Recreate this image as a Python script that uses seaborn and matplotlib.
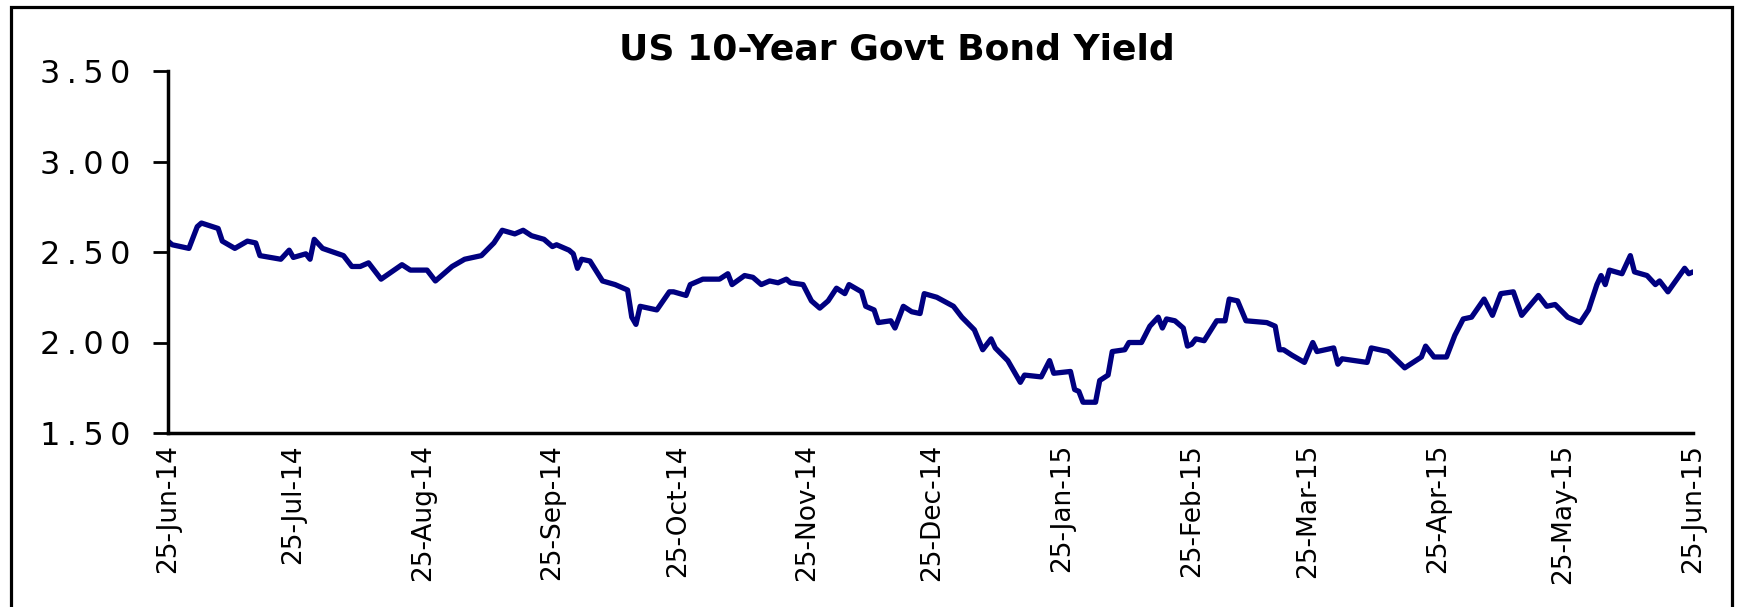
import matplotlib
matplotlib.use('Agg')
import matplotlib.pyplot as plt
import matplotlib.dates as mdates
from matplotlib.ticker import FuncFormatter
import seaborn as sns
import pandas as pd

# US 10y govt bond yield (days after 25-Jun-14, % yield)
day_offset = [0, 1, 5, 7, 8, 12, 13, 16, 19, 21, 22, 27, 29, 30, 33, 34, 35, 37,
              42, 44, 46, 48, 51, 56, 58, 62, 64, 68, 71, 75, 78, 80, 83, 85, 87,
              90, 92, 93, 96, 97, 98, 99, 101, 104, 107, 110, 111, 112, 113, 117,
              120, 121, 124, 125, 128, 132, 134, 135, 138, 140, 142, 144, 146, 148,
              149, 152, 154, 156, 158, 160, 162, 163, 166, 167, 169, 170, 173, 174,
              176, 178, 180, 181, 184, 188, 190, 193, 195, 197, 198, 201, 204, 205,
              209, 211, 212, 216, 217, 218, 219, 222, 223, 225, 226, 229, 230, 233,
              235, 237, 238, 239, 241, 243, 244, 245, 246, 248, 251, 253, 254, 256,
              258, 263, 265, 266, 267, 269, 272, 274, 275, 279, 280, 281, 287, 288,
              292, 296, 300, 301, 303, 306, 308, 310, 312, 315, 317, 319, 322, 324,
              328, 330, 332, 335, 338, 340, 342, 343, 344, 345, 348, 350, 351, 354,
              356, 357, 359, 363, 364, 365]
yield_pct = [2.56, 2.54, 2.52, 2.64, 2.66, 2.63, 2.56, 2.52, 2.56, 2.55, 2.48, 2.46,
             2.51, 2.47, 2.49, 2.46, 2.57, 2.52, 2.48, 2.42, 2.42, 2.44, 2.35, 2.43,
             2.40, 2.40, 2.34, 2.42, 2.46, 2.48, 2.55, 2.62, 2.60, 2.62, 2.59, 2.57,
             2.53, 2.54, 2.51, 2.49, 2.41, 2.46, 2.45, 2.34, 2.32, 2.29, 2.14, 2.10,
             2.20, 2.18, 2.28, 2.28, 2.26, 2.32, 2.35, 2.35, 2.38, 2.32, 2.37, 2.36,
             2.32, 2.34, 2.33, 2.35, 2.33, 2.32, 2.23, 2.19, 2.23, 2.30, 2.27, 2.32,
             2.28, 2.20, 2.18, 2.11, 2.12, 2.08, 2.20, 2.17, 2.16, 2.27, 2.25, 2.20,
             2.14, 2.07, 1.96, 2.02, 1.97, 1.90, 1.78, 1.82, 1.81, 1.90, 1.83, 1.84,
             1.74, 1.73, 1.67, 1.67, 1.79, 1.82, 1.95, 1.96, 2.00, 2.00, 2.09, 2.14,
             2.08, 2.13, 2.12, 2.08, 1.98, 1.99, 2.02, 2.01, 2.12, 2.12, 2.24, 2.23,
             2.12, 2.11, 2.09, 1.96, 1.96, 1.93, 1.89, 2.00, 1.95, 1.97, 1.88, 1.91,
             1.89, 1.97, 1.95, 1.86, 1.92, 1.98, 1.92, 1.92, 2.04, 2.13, 2.14, 2.24,
             2.15, 2.27, 2.28, 2.15, 2.26, 2.20, 2.21, 2.14, 2.11, 2.18, 2.32, 2.37,
             2.32, 2.40, 2.38, 2.48, 2.39, 2.37, 2.32, 2.34, 2.28, 2.41, 2.38, 2.39]

start_date = '2014-06-25'
end_date = '2015-06-25'
title_text = 'US 10-Year Govt Bond Yield'
y_ticks = [1.50, 2.00, 2.50, 3.00, 3.50]

df = pd.DataFrame({'date': pd.Timestamp(start_date) + pd.to_timedelta(day_offset, unit='D'),
                   'yield': yield_pct})

sns.set_style('white')
plt.rcParams['font.family'] = ['DejaVu Sans']

W, H = 1737, 607
fig = plt.figure(figsize=(W / 100, H / 100), dpi=100)
ax = fig.add_axes([168 / W, 1 - 433 / H, (1693 - 168) / W, (433 - 71) / H])

sns.lineplot(data=df, x='date', y='yield', ax=ax, color='#000080', linewidth=3.8)

ax.set_xlim(pd.Timestamp(start_date), pd.Timestamp(end_date))
ax.set_ylim(1.5, 3.5)
ax.set_yticks(y_ticks)
# the original labels are letter-spaced
ax.yaxis.set_major_formatter(FuncFormatter(lambda v, p: '\u2009'.join('%.2f' % v)))

month_ticks = pd.date_range(start_date, end_date, freq=pd.DateOffset(months=1))
ax.set_xticks(month_ticks)
ax.xaxis.set_major_formatter(mdates.DateFormatter('%d-%b-%y'))

ax.set_xlabel('')
ax.set_ylabel('')

for s in ['top', 'right']:
    ax.spines[s].set_visible(False)
for s in ['left', 'bottom']:
    ax.spines[s].set_linewidth(2.5)
    ax.spines[s].set_color('black')

ax.tick_params(axis='y', direction='out', length=11, width=2, pad=16,
               labelsize=23, colors='black', left=True)
ax.tick_params(axis='x', length=0, pad=8, labelsize=19, labelrotation=90,
               colors='black')

fig.text(897 / W, 1 - 59 / H, title_text, ha='center', va='baseline',
         fontsize=26, fontweight='bold', color='black')

# outer chart border (bottom edge falls outside the picture)
fig.add_artist(plt.Rectangle((11 / W, -0.1), (1732 - 11) / W, 1 - 7 / H + 0.1,
                             transform=fig.transFigure, fill=False,
                             edgecolor='black', linewidth=2.3, clip_on=False))

fig.savefig('out.png', dpi=100, facecolor='white')
